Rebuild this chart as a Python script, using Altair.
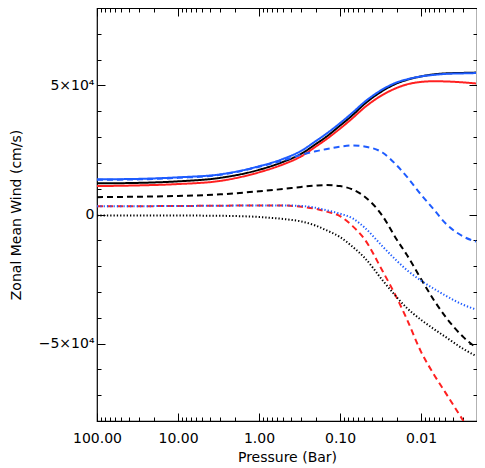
import altair as alt
import pandas as pd

# ---------------- data ----------------
pressure = [100, 30, 10, 3, 1, 0.5, 0.3, 0.2, 0.15, 0.1, 0.07, 0.05, 0.03,
            0.02, 0.015, 0.01, 0.007, 0.005, 0.003, 0.0021]

blue_solid = [13620, 13810, 14400, 15560, 18680, 21600, 24710, 28400, 31130, 35410,
              39490, 43580, 48440, 51170, 52330, 53500, 54080, 54470, 54670, 54790]
black_solid = [12060, 12260, 12840, 14200, 17310, 20430, 23540, 27240, 29960, 34440,
               38520, 42800, 47860, 50780, 52140, 53500, 54280, 54670, 54860, 54980]
red_solid = [11010, 11280, 11790, 13030, 16340, 19460, 22570, 26260, 28990, 33270,
             37350, 41440, 46300, 49030, 50390, 51360, 51630, 51550, 51170, 50780]
blue_dashed = [13450, 13620, 14200, 15360, 18480, 21010, 23150, 24510, 25290, 26260,
               26730, 26340, 24010, 19070, 14670, 7700, 2020, -3390, -8560, -10500]
black_dashed = [6730, 6900, 7200, 7800, 9000, 9900, 10700, 11200, 11400, 11000,
                9700, 7000, -500, -9700, -15600, -25000, -33000, -39600, -47500, -51500]
red_dashed = [3230, 3230, 3300, 3400, 3500, 3500, 3000, 2200, 1200, -660,
              -4500, -9500, -21800, -32200, -40500, -53200, -61800, -69000, -80000, None]
blue_dotted = [3230, 3230, 3300, 3400, 3500, 3500, 3300, 2600, 1700, 300,
               -1500, -5000, -12300, -17900, -21500, -25600, -28700, -31400, -35000, -36800]
black_dotted = [-390, -390, -400, -500, -970, -1750, -2720, -4300, -6000, -8750,
                -12500, -16700, -25400, -32000, -36200, -40800, -44300, -47400, -52100, -54800]

series_names = ["black_solid", "blue_solid", "red_solid", "blue_dashed",
                "black_dashed", "red_dashed", "blue_dotted", "black_dotted"]
series_values = [black_solid, blue_solid, red_solid, blue_dashed,
                 black_dashed, red_dashed, blue_dotted, black_dotted]
series_colors = ["#000000", "#1E5CFF", "#FF2020", "#1E5CFF",
                 "#000000", "#FF2020", "#1E5CFF", "#000000"]
series_dash = [[1, 0], [1, 0], [1, 0], [6, 4], [6, 4], [6, 4], [1.3, 2], [1.3, 2]]
series_width = [2, 2, 2, 1.6, 1.6, 1.6, 1.6, 1.6]

x_major = [100, 10, 1, 0.1, 0.01]
x_minor = [m * d for d in [10, 1, 0.1, 0.01, 0.001] for m in range(2, 10)]
x_minor = [round(v, 6) for v in x_minor if v > 0.00205]
y_major = [-50000, 0, 50000]
y_major_labels = ["\u22125\u00d710\u2074", "0", "5\u00d710\u2074"]
y_minor = [v for v in range(-70000, 80000, 10000) if v not in y_major]

rows = []
for name, vals in zip(series_names, series_values):
    for p, v in zip(pressure, vals):
        if v is not None:
            rows.append({"p": p, "v": v, "series": name})
df = pd.DataFrame(rows)

# ---------------- chart ----------------
W, H = 380, 413
FONT = "DejaVu Sans"
x_scale = alt.Scale(type="log", domain=[0.00204, 100], reverse=True, nice=False)
y_scale = alt.Scale(domain=[-80000, 80000], nice=False, zero=False)

label_expr = "''"
for v, l in zip(y_major, y_major_labels):
    label_expr = f"datum.value == {v} ? '{l}' : ({label_expr})"

base = alt.Chart(df)

lines = base.mark_line(clip=True, interpolate="monotone", strokeCap="butt").encode(
    x=alt.X("p:Q", scale=x_scale,
            axis=alt.Axis(orient="bottom", values=x_major, format=".2f", ticks=False,
                          domain=False, grid=False, title="Pressure (Bar)",
                          labelFont=FONT, labelFontSize=14, labelColor="black",
                          labelPadding=10, titleFont=FONT, titleFontSize=14,
                          titleFontWeight="normal", titleColor="black", titlePadding=5,
                          labelFlush=False)),
    y=alt.Y("v:Q", scale=y_scale,
            axis=alt.Axis(orient="left", values=y_major, labelExpr=label_expr, ticks=False,
                          domain=False, grid=False, title="Zonal Mean Wind (cm/s)",
                          labelFont=FONT, labelFontSize=14, labelColor="black",
                          labelPadding=3, titleFont=FONT, titleFontSize=14,
                          titleFontWeight="normal", titleColor="black", titlePadding=15,
                          labelFlush=False)),
    color=alt.Color("series:N", scale=alt.Scale(domain=series_names, range=series_colors), legend=None),
    strokeDash=alt.StrokeDash("series:N", scale=alt.Scale(domain=series_names, range=series_dash), legend=None),
    strokeWidth=alt.StrokeWidth("series:N", scale=alt.Scale(domain=series_names, range=series_width), legend=None),
)


def tick_layer(xvals, yvals, size, xorient, yorient):
    common = dict(labels=False, domain=False, grid=False, title="", ticks=True,
                  tickColor="black", tickWidth=1, tickSize=alt.ExprRef(expr=str(-size)))
    return base.mark_point(opacity=0).encode(
        x=alt.X("p:Q", scale=x_scale, axis=alt.Axis(orient=xorient, values=xvals, **common)),
        y=alt.Y("v:Q", scale=y_scale, axis=alt.Axis(orient=yorient, values=yvals, **common)),
    )


chart = alt.layer(
    lines,
    tick_layer(x_major, y_major, 8, "bottom", "left"),
    tick_layer(x_minor, y_minor, 4, "bottom", "left"),
    tick_layer(x_major, y_major, 8, "top", "right"),
    tick_layer(x_minor, y_minor, 4, "top", "right"),
).resolve_axis(x="independent", y="independent").properties(
    width=W, height=H,
    autosize=alt.AutoSizeParams(type="none"),
    padding={"left": 89, "top": 0, "right": 0, "bottom": 47},
    background="white",
).configure_view(stroke="black", strokeWidth=1.2)

chart.save("out.html", embed_options={"renderer": "svg", "actions": False})
